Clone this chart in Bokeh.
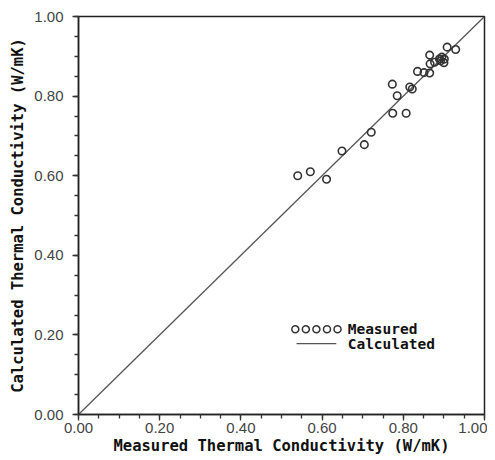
from bokeh.plotting import figure
from bokeh.models import SingleIntervalTicker, NumeralTickFormatter, Range1d, Label
from bokeh.embed import file_html
from bokeh.resources import INLINE

measured = [0.540, 0.571, 0.611, 0.649, 0.704, 0.721, 0.774, 0.807, 0.785, 0.773,
            0.816, 0.822, 0.835, 0.851, 0.865, 0.865, 0.866, 0.877, 0.889, 0.895,
            0.900, 0.908, 0.929, 0.892, 0.901]
calculated = [0.600, 0.610, 0.591, 0.662, 0.678, 0.709, 0.757, 0.757, 0.801, 0.830,
              0.823, 0.818, 0.862, 0.859, 0.858, 0.903, 0.881, 0.885, 0.893, 0.898,
              0.884, 0.923, 0.917, 0.889, 0.893]
line_x = [0.0, 1.0]
line_y = [0.0, 1.0]
x_title = "Measured Thermal Conductivity (W/mK)"
y_title = "Calculated Thermal Conductivity (W/mK)"
legend_labels = ["Measured", "Calculated"]

p = figure(width=487, height=460, output_backend="svg", toolbar_location=None,
           x_range=Range1d(0, 1), y_range=Range1d(0, 1),
           min_border_left=78, min_border_right=3, min_border_top=16, min_border_bottom=46)
p.grid.visible = False
p.outline_line_color = "#222222"
p.outline_line_width = 1.5
p.background_fill_color = "white"
p.border_fill_color = "white"

p.line(line_x, line_y, line_color="#555555", line_width=1.3)
p.scatter(measured, calculated, marker="circle", size=7.5, fill_color=None,
          line_color="#333333", line_width=1.6)

for ax in (p.xaxis[0], p.yaxis[0]):
    ax.ticker = SingleIntervalTicker(interval=0.2, num_minor_ticks=4)
    ax.formatter = NumeralTickFormatter(format="0.00")
    ax.axis_line_color = "#222222"
    ax.axis_line_width = 1.5
    ax.major_tick_in = 0
    ax.major_tick_out = 6
    ax.minor_tick_in = 0
    ax.minor_tick_out = 4
    ax.major_tick_line_color = "#333333"
    ax.minor_tick_line_color = "#333333"
    ax.major_tick_line_width = 1.3
    ax.minor_tick_line_width = 1.3
    ax.major_label_text_font = "Liberation Sans"
    ax.major_label_text_font_size = "15px"
    ax.major_label_text_color = "#444444"
    ax.axis_label_text_font = "DejaVu Sans Mono"
    ax.axis_label_text_font_style = "bold"
    ax.axis_label_text_font_size = "15.5px"
    ax.axis_label_text_color = "#111111"

p.xaxis.axis_label = x_title
p.yaxis.axis_label = y_title
p.xaxis.major_label_standoff = 2
p.xaxis.axis_label_standoff = 1
p.yaxis.major_label_standoff = 9
p.yaxis.axis_label_standoff = 4

# legend (drawn manually to mimic the five-circle key)
leg_cx = [0.534, 0.560, 0.586, 0.612, 0.638]
leg_cy = [0.214] * 5
p.scatter(leg_cx, leg_cy, marker="circle", size=7, fill_color=None,
          line_color="#333333", line_width=1.5)
p.line([0.537, 0.635], [0.178, 0.178], line_color="#555555", line_width=1.3)
for txt, yy in zip(legend_labels, (0.214, 0.178)):
    p.add_layout(Label(x=0.663, y=yy, text=txt, text_font="DejaVu Sans Mono",
                       text_font_style="bold", text_font_size="14.5px",
                       text_baseline="middle", text_color="#111111"))

open("out.html", "w").write(file_html(p, INLINE))
